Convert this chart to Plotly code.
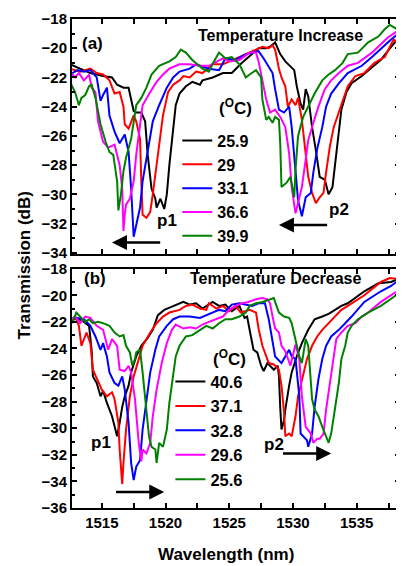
import plotly.graph_objects as go

# ---------------- data: (wavelength nm, transmission dB) ----------------
# Panel (a): temperature increase
A_25_9 = [(1512.5,-21.1),(1514.1,-21.7),(1515.1,-21.9),(1515.8,-22.0),(1516.2,-22.5),(1516.7,-22.7),(1517.1,-22.7),
          (1517.3,-23.4),(1517.5,-24.3),(1517.7,-24.4),(1518.1,-24.4),(1518.4,-25.0),(1518.6,-27.3),(1518.9,-29.6),
          (1519.2,-30.3),(1519.3,-30.9),(1519.6,-30.3),(1519.9,-31.0),(1520.1,-30.0),(1520.3,-28.0),(1520.6,-25.5),
          (1520.8,-23.9),(1521.1,-23.1),(1521.6,-22.6),(1522.1,-22.3),(1522.7,-22.5),(1522.9,-22.2),(1523.7,-22.0),
          (1524.5,-21.7),(1525.2,-21.7),(1526.0,-21.0),(1526.8,-20.4),(1527.3,-20.0),(1527.9,-20.0),(1528.2,-19.9),
          (1528.6,-19.6),(1529.0,-20.4),(1529.4,-20.9),(1530.1,-21.5),(1530.3,-22.6),(1530.6,-23.8),(1530.8,-24.2),
          (1531.0,-22.8),(1531.2,-23.3),(1531.5,-25.4),(1531.8,-27.0),(1532.1,-28.8),(1532.5,-29.0),(1532.8,-30.0),
          (1533.1,-29.5),(1533.3,-28.1),(1533.6,-26.0),(1533.8,-24.2),(1534.2,-23.0),(1534.6,-22.4),(1535.4,-21.9),
          (1536.2,-21.3),(1536.9,-20.8),(1537.7,-19.9),(1538.4,-19.2)]
A_29 = [(1512.5,-21.4),(1513.3,-21.6),(1514.1,-21.4),(1514.6,-21.7),(1515.1,-21.8),(1515.6,-22.2),(1516.0,-23.1),
        (1516.4,-23.0),(1516.7,-24.0),(1516.8,-25.2),(1517.1,-25.5),(1517.5,-24.6),(1517.7,-25.0),(1518.0,-26.2),
        (1518.1,-29.1),(1518.2,-31.4),(1518.5,-31.6),(1518.8,-31.2),(1519.0,-30.0),(1519.4,-27.1),(1519.8,-24.6),
        (1520.2,-23.0),(1520.6,-22.5),(1521.1,-22.2),(1521.4,-21.9),(1521.9,-22.0),(1522.4,-21.6),(1522.9,-21.7),
        (1523.7,-21.1),(1524.5,-21.1),(1525.0,-20.9),(1525.5,-20.7),(1526.3,-20.4),(1527.1,-20.1),(1527.6,-19.9),
        (1528.1,-20.0),(1528.4,-19.8),(1528.6,-20.1),(1528.9,-21.4),(1529.1,-22.0),(1529.4,-22.6),(1529.6,-24.0),
        (1529.9,-23.5),(1530.2,-23.9),(1530.4,-23.4),(1530.7,-24.9),(1531.0,-27.2),(1531.2,-28.8),(1531.5,-29.9),
        (1531.8,-30.6),(1532.1,-30.2),(1532.4,-29.9),(1532.6,-28.5),(1532.9,-26.7),(1533.2,-25.4),(1533.6,-24.4),
        (1534.0,-23.5),(1534.3,-22.6),(1534.9,-21.9),(1535.6,-21.7),(1536.4,-21.0),(1537.2,-20.6),(1537.9,-19.4),
        (1538.4,-19.8)]
A_33_1 = [(1512.5,-21.8),(1513.1,-21.5),(1513.6,-21.6),(1514.1,-21.5),(1514.6,-22.0),(1514.9,-23.6),(1515.1,-23.2),
          (1515.4,-22.7),(1515.6,-24.6),(1516.0,-25.7),(1516.4,-26.5),(1516.8,-25.9),(1517.1,-27.1),(1517.3,-29.6),
          (1517.5,-32.9),(1517.7,-32.1),(1518.0,-30.9),(1518.2,-29.1),(1518.6,-27.1),(1519.0,-25.0),(1519.5,-23.9),
          (1520.1,-22.7),(1520.6,-22.0),(1521.1,-21.6),(1521.9,-21.4),(1522.4,-21.1),(1523.4,-21.4),(1524.2,-21.5),
          (1524.7,-20.7),(1525.5,-20.8),(1526.3,-20.4),(1526.8,-20.3),(1527.3,-20.2),(1527.7,-20.7),(1528.4,-21.7),
          (1528.6,-22.8),(1528.9,-24.2),(1529.3,-24.4),(1529.7,-24.0),(1529.9,-25.4),(1530.2,-28.1),(1530.4,-30.4),
          (1530.7,-31.5),(1531.0,-30.2),(1531.4,-29.9),(1531.6,-28.5),(1531.9,-26.9),(1532.3,-25.4),(1532.6,-24.0),
          (1533.0,-23.1),(1533.6,-22.4),(1534.3,-21.7),(1535.4,-21.2),(1536.2,-20.6),(1537.7,-19.4),(1538.4,-18.9)]
A_36_6 = [(1512.5,-21.6),(1512.9,-22.0),(1513.2,-21.7),(1513.6,-22.2),(1514.0,-21.8),(1514.2,-22.7),(1514.5,-23.0),
          (1514.7,-25.0),(1515.1,-26.4),(1515.5,-26.8),(1516.0,-26.6),(1516.4,-28.0),(1516.6,-29.6),(1516.7,-32.5),
          (1516.8,-31.4),(1516.9,-30.7),(1517.2,-30.3),(1517.5,-29.1),(1517.7,-27.3),(1518.0,-25.2),(1518.2,-23.9),
          (1518.8,-23.0),(1519.3,-22.3),(1519.8,-21.8),(1520.3,-21.4),(1521.1,-21.1),(1521.9,-21.1),(1522.7,-21.2),
          (1523.4,-21.2),(1524.5,-20.7),(1525.0,-20.9),(1525.8,-20.8),(1526.6,-20.3),(1527.1,-20.3),(1527.3,-20.9),
          (1527.6,-22.2),(1527.9,-23.5),(1528.2,-24.4),(1528.6,-24.2),(1529.0,-24.7),(1529.4,-25.4),(1529.7,-27.2),
          (1529.9,-29.5),(1530.2,-31.3),(1530.4,-30.6),(1530.7,-29.5),(1531.0,-27.6),(1531.2,-26.3),(1531.6,-25.1),
          (1532.0,-24.0),(1532.5,-22.8),(1533.0,-22.2),(1533.6,-21.7),(1534.3,-21.2),(1535.1,-21.0),(1536.2,-20.3),
          (1537.4,-19.3),(1538.4,-18.7)]
A_39_9 = [(1512.5,-22.3),(1512.9,-23.0),(1513.2,-23.9),(1513.4,-23.4),(1513.7,-23.2),(1514.0,-22.6),(1514.2,-22.5),
          (1514.5,-23.4),(1514.9,-25.2),(1515.3,-26.4),(1515.6,-27.1),(1515.9,-27.3),(1516.2,-29.1),(1516.3,-31.1),
          (1516.5,-30.0),(1516.7,-28.4),(1516.9,-27.5),(1517.3,-26.2),(1517.7,-23.9),(1518.1,-23.4),(1518.5,-22.7),
          (1518.9,-21.8),(1519.5,-21.2),(1520.3,-20.9),(1520.8,-20.6),(1521.2,-20.1),(1521.6,-20.3),(1522.1,-20.8),
          (1522.9,-21.4),(1523.4,-21.6),(1523.8,-20.9),(1524.2,-20.3),(1524.7,-20.7),(1525.2,-20.6),(1525.8,-21.1),
          (1526.3,-22.0),(1526.6,-21.8),(1527.1,-21.5),(1527.5,-22.0),(1527.6,-23.5),(1527.9,-24.9),(1528.1,-24.7),
          (1528.4,-25.1),(1528.6,-24.7),(1528.9,-24.9),(1529.0,-26.5),(1529.1,-29.5),(1529.5,-29.2),(1529.8,-28.8),
          (1530.1,-30.2),(1530.2,-28.3),(1530.4,-26.0),(1530.8,-24.7),(1531.2,-24.0),(1531.7,-23.1),(1532.3,-22.2),
          (1532.8,-21.8),(1533.3,-21.5),(1533.9,-21.0),(1534.3,-20.4),(1535.1,-20.3),(1535.9,-19.6),(1536.7,-19.2),
          (1537.2,-18.7),(1537.6,-18.4),(1538.0,-18.6),(1538.4,-18.9)]

# Panel (b): temperature decrease
B_40_6 = [(1512.5,-22.0),(1513.0,-21.7),(1513.6,-22.0),(1514.0,-22.3),(1514.2,-24.1),(1514.3,-26.1),(1514.6,-26.6),
          (1514.9,-27.6),(1515.1,-27.2),(1515.4,-28.1),(1515.8,-29.1),(1516.0,-29.9),(1516.2,-30.6),(1516.4,-29.6),
          (1516.6,-28.4),(1516.8,-27.6),(1517.1,-26.8),(1517.3,-25.8),(1517.7,-24.6),(1518.1,-23.8),(1518.6,-23.2),
          (1519.0,-22.6),(1519.4,-21.5),(1519.9,-21.1),(1520.6,-20.8),(1521.1,-20.6),(1521.4,-20.5),(1521.9,-20.7),
          (1522.4,-20.6),(1522.9,-21.0),(1523.7,-20.5),(1524.2,-20.8),(1524.7,-20.7),(1525.2,-21.2),(1525.8,-20.8),
          (1526.2,-21.7),(1526.4,-21.6),(1526.7,-23.1),(1526.9,-24.1),(1527.2,-24.3),(1527.5,-25.3),(1527.7,-25.7),
          (1528.0,-25.1),(1528.2,-25.3),(1528.5,-25.6),(1528.8,-25.3),(1528.9,-26.1),(1529.0,-28.4),(1529.1,-30.1),
          (1529.3,-29.4),(1529.4,-28.6),(1529.7,-26.8),(1529.9,-25.8),(1530.3,-24.6),(1530.7,-23.6),(1531.2,-22.6),
          (1531.7,-21.8),(1532.3,-21.6),(1532.8,-21.4),(1533.3,-21.1),(1533.8,-20.8),(1534.3,-20.6),(1535.6,-19.7),
          (1536.7,-19.1),(1537.7,-19.0),(1538.4,-18.7)]
B_37_1 = [(1512.5,-22.0),(1512.9,-21.6),(1513.2,-22.3),(1513.4,-23.8),(1513.8,-22.8),(1514.1,-23.6),(1514.3,-25.6),
          (1514.6,-26.3),(1515.0,-27.1),(1515.4,-27.6),(1515.8,-27.3),(1516.0,-27.8),(1516.3,-29.6),(1516.4,-31.6),
          (1516.6,-34.2),(1516.7,-32.6),(1516.9,-30.1),(1517.2,-27.6),(1517.5,-26.1),(1517.9,-24.8),(1518.2,-23.8),
          (1518.8,-22.8),(1519.3,-22.1),(1519.8,-21.6),(1520.3,-21.3),(1521.1,-21.1),(1521.6,-20.8),(1522.1,-20.7),
          (1522.7,-21.0),(1523.2,-21.1),(1523.4,-20.6),(1524.0,-21.0),(1524.5,-20.8),(1525.0,-21.2),(1525.5,-20.8),
          (1525.9,-21.3),(1526.6,-21.1),(1527.1,-21.3),(1527.3,-22.5),(1527.6,-23.8),(1527.8,-24.3),(1528.1,-25.1),
          (1528.5,-25.2),(1528.9,-25.6),(1529.1,-26.8),(1529.3,-28.8),(1529.4,-30.6),(1529.7,-30.4),(1529.9,-30.6),
          (1530.2,-29.1),(1530.4,-27.6),(1530.7,-26.3),(1531.1,-24.8),(1531.5,-23.8),(1531.9,-23.1),(1532.3,-22.6),
          (1532.8,-22.1),(1533.3,-21.6),(1533.8,-21.1),(1534.3,-20.8),(1535.6,-20.0),(1536.9,-19.0),(1537.6,-18.7),
          (1538.4,-18.8)]
B_32_8 = [(1512.5,-21.8),(1513.0,-21.7),(1513.6,-21.8),(1514.1,-22.3),(1514.5,-23.1),(1514.9,-24.1),(1515.1,-23.6),
          (1515.4,-24.6),(1515.6,-25.8),(1516.0,-26.6),(1516.3,-26.8),(1516.6,-26.1),(1516.8,-27.1),(1517.1,-29.6),
          (1517.3,-32.6),(1517.5,-33.9),(1517.7,-32.9),(1518.0,-32.4),(1518.2,-30.1),(1518.5,-27.8),(1518.8,-25.8),
          (1519.2,-24.1),(1519.5,-23.1),(1520.1,-22.3),(1520.6,-21.8),(1521.1,-21.6),(1521.9,-21.6),(1522.7,-21.7),
          (1523.7,-21.3),(1524.2,-21.1),(1524.7,-21.2),(1525.2,-20.7),(1525.8,-20.6),(1526.3,-20.7),(1526.8,-20.8),
          (1527.3,-20.6),(1527.8,-20.6),(1528.1,-21.8),(1528.4,-23.6),(1528.6,-24.6),(1529.1,-25.1),(1529.4,-24.6),
          (1529.7,-24.1),(1529.9,-24.6),(1530.2,-24.8),(1530.5,-27.6),(1530.6,-30.4),(1530.8,-30.6),(1531.1,-30.9),
          (1531.2,-31.4),(1531.5,-30.4),(1531.7,-28.4),(1532.0,-26.3),(1532.3,-24.8),(1532.6,-23.8),(1533.0,-23.1),
          (1533.6,-22.6),(1534.1,-22.1),(1534.6,-21.6),(1535.6,-20.5),(1536.9,-19.7),(1537.7,-19.3),(1538.4,-18.8)]
B_29_6 = [(1512.5,-22.0),(1512.9,-21.6),(1513.3,-22.1),(1513.7,-21.6),(1514.1,-21.7),(1514.6,-22.3),(1515.1,-22.6),
          (1515.5,-24.1),(1515.8,-23.3),(1516.2,-23.8),(1516.4,-25.6),(1516.8,-25.7),(1517.1,-25.3),(1517.3,-25.8),
          (1517.6,-27.8),(1517.9,-31.1),(1518.1,-32.5),(1518.2,-31.6),(1518.5,-31.9),(1518.8,-31.1),(1519.0,-29.1),
          (1519.3,-27.1),(1519.7,-25.1),(1520.1,-23.6),(1520.5,-22.6),(1520.8,-22.2),(1521.4,-22.5),(1521.9,-22.4),
          (1522.4,-22.5),(1522.9,-22.2),(1523.4,-22.0),(1523.9,-21.8),(1524.5,-21.6),(1525.0,-21.1),(1525.5,-20.8),
          (1526.0,-20.6),(1526.5,-20.5),(1527.1,-20.3),(1527.6,-20.2),(1528.0,-20.3),(1528.2,-20.6),(1528.4,-21.6),
          (1528.6,-22.5),(1528.9,-22.8),(1529.1,-23.8),(1529.4,-24.2),(1529.8,-25.3),(1530.2,-23.7),(1530.5,-24.8),
          (1530.7,-27.6),(1531.0,-29.9),(1531.4,-30.4),(1531.6,-31.1),(1531.9,-30.8),(1532.1,-30.8),(1532.4,-30.4),
          (1532.6,-28.6),(1532.9,-26.6),(1533.2,-24.6),(1533.4,-23.3),(1533.8,-22.8),(1534.3,-22.3),(1534.9,-22.1),
          (1535.4,-21.6),(1535.9,-21.3),(1536.9,-20.5),(1538.0,-19.8),(1538.4,-19.7)]
B_25_6 = [(1512.5,-22.3),(1512.8,-21.8),(1513.0,-21.3),(1513.3,-21.6),(1513.7,-22.0),(1514.0,-21.8),(1514.3,-22.1),
          (1514.7,-22.0),(1515.1,-22.1),(1515.6,-22.3),(1516.0,-22.8),(1516.4,-23.1),(1516.7,-23.0),(1516.9,-23.8),
          (1517.2,-24.3),(1517.4,-25.3),(1517.6,-24.8),(1517.7,-24.3),(1518.0,-24.1),(1518.2,-25.8),(1518.5,-28.4),
          (1518.7,-30.6),(1518.9,-31.4),(1519.2,-31.6),(1519.3,-32.6),(1519.4,-31.9),(1519.5,-31.1),(1519.8,-31.4),
          (1520.1,-30.1),(1520.3,-28.1),(1520.6,-26.1),(1520.8,-24.6),(1521.1,-23.8),(1521.6,-23.1),(1522.1,-23.0),
          (1522.7,-22.6),(1523.2,-22.3),(1523.7,-22.5),(1524.2,-22.1),(1524.7,-21.8),(1525.2,-21.8),(1525.8,-21.6),
          (1526.3,-21.3),(1526.6,-20.8),(1527.1,-20.6),(1527.6,-20.5),(1528.1,-20.3),(1528.5,-20.2),(1528.6,-20.5),
          (1528.9,-21.3),(1529.3,-21.6),(1529.7,-21.7),(1529.9,-22.1),(1530.2,-23.3),(1530.5,-24.6),(1530.7,-25.1),
          (1531.0,-23.3),(1531.2,-23.8),(1531.5,-27.8),(1531.7,-28.6),(1532.0,-29.1),(1532.3,-29.9),(1532.5,-30.4),
          (1532.8,-31.1),(1533.0,-30.4),(1533.3,-28.6),(1533.6,-26.6),(1533.8,-24.8),(1534.1,-23.8),(1534.3,-22.8),
          (1534.6,-22.3),(1535.1,-21.8),(1535.9,-21.3),(1536.9,-20.8),(1537.7,-20.3),(1538.4,-19.8)]

LABELS_A = ["25.9", "29", "33.1", "36.6", "39.9"]
LABELS_B = ["40.6", "37.1", "32.8", "29.6", "25.6"]
COLORS = ["#000000", "#ff0000", "#0000ff", "#ff00ff", "#008000"]

X_RANGE = [1512.66, 1538.4]
Y_RANGE_A = [-34.1, -18]
Y_RANGE_B = [-36, -18]
X_TICKS = [1515, 1520, 1525, 1530, 1535]

FONT = "Liberation Sans, Arial, Helvetica, sans-serif"

fig = go.Figure()

for name, color, pts in zip(LABELS_A, COLORS, [A_25_9, A_29, A_33_1, A_36_6, A_39_9]):
    fig.add_trace(go.Scatter(x=[p[0] for p in pts], y=[p[1] for p in pts], mode="lines",
                             line=dict(color=color, width=2), name=name,
                             xaxis="x", yaxis="y", legend="legend"))
for name, color, pts in zip(LABELS_B, COLORS, [B_40_6, B_37_1, B_32_8, B_29_6, B_25_6]):
    fig.add_trace(go.Scatter(x=[p[0] for p in pts], y=[p[1] for p in pts], mode="lines",
                             line=dict(color=color, width=2), name=name,
                             xaxis="x2", yaxis="y2", legend="legend2"))

tickfont = dict(family=FONT, size=15, color="black", weight="bold")

def xaxis(anchor, labels):
    return dict(anchor=anchor, domain=[0, 1], range=X_RANGE, tickvals=X_TICKS,
                showticklabels=labels, tickfont=tickfont,
                ticks="inside", ticklen=5, tickwidth=1.5, tickcolor="black",
                minor=dict(dtick=2.5, tick0=1515, ticks="inside", ticklen=5, tickwidth=1.5, tickcolor="black"),
                showline=True, linewidth=2, linecolor="black", mirror="ticks",
                showgrid=False, zeroline=False)

def yaxis(anchor, dom, rng, vals):
    return dict(anchor=anchor, domain=dom, range=rng, tickvals=vals, tickfont=tickfont,
                ticks="inside", ticklen=5, tickwidth=1.5, tickcolor="black",
                minor=dict(dtick=1, ticks="inside", ticklen=3, tickwidth=1.5, tickcolor="black"),
                showline=True, linewidth=2, linecolor="black", mirror="ticks",
                showgrid=False, zeroline=False)

ann_font = dict(family=FONT, size=16, color="black", weight="bold")
big_font = dict(family=FONT, size=17, color="black", weight="bold")

def label(text, x, y, xref, yref, font=big_font, **kw):
    return dict(text=text, x=x, y=y, xref=xref, yref=yref, showarrow=False, font=font,
                xanchor="center", yanchor="middle", **kw)

annotations = [
    label("(a)", 1514.3, -19.7, "x", "y"),
    label("Temperature Increase", 1529.05, -19.1, "x", "y", ann_font),
    label("(<sup>O</sup>C)", 1525.5, -24.0, "x", "y"),
    label("p1", 1520.1, -31.8, "x", "y"),
    label("p2", 1533.6, -31.0, "x", "y"),
    label("(b)", 1514.5, -18.75, "x2", "y2"),
    label("Temperature Decrease", 1528.6, -18.75, "x2", "y2", ann_font),
    label("(<sup>O</sup>C)", 1525.0, -24.7, "x2", "y2"),
    label("p1", 1514.95, -31.1, "x2", "y2"),
    label("p2", 1528.5, -31.2, "x2", "y2"),
    label("Transmission (dB)", -0.142, 0.497, "paper", "paper", textangle=-90),
    label("Wavelength (nm)", 0.47, -0.095, "paper", "paper"),
]

# shift arrows (head, tail)
ARROWS = [("x", "y", 1515.8, -33.3, 1519.7, -33.3),
          ("x", "y", 1528.9, -32.1, 1532.8, -32.1),
          ("x2", "y2", 1519.9, -34.8, 1516.0, -34.8),
          ("x2", "y2", 1533.0, -31.9, 1529.1, -31.9)]
for xr, yr, hx, hy, tx, ty in ARROWS:
    annotations.append(dict(x=hx, y=hy, ax=tx, ay=ty, xref=xr, yref=yr, axref=xr, ayref=yr,
                            text="", showarrow=True, arrowhead=2, arrowsize=1.2, arrowwidth=2.5,
                            arrowcolor="black", standoff=0, startstandoff=0))

def legend_style(size):
    return dict(font=dict(family=FONT, size=size, color="black", weight="bold"),
                bgcolor="rgba(0,0,0,0)", xanchor="left", yanchor="top",
                itemclick=False, itemdoubleclick=False)

# page body has an 8px default margin, so the figure is 8px smaller and margins shifted
fig.update_layout(
    width=396, height=558,
    margin=dict(l=64, r=2, t=11, b=58),
    paper_bgcolor="white", plot_bgcolor="white",
    showlegend=True,
    xaxis=xaxis("y", False),
    yaxis=yaxis("x", [0.5188, 1], Y_RANGE_A, [-34, -32, -30, -28, -26, -24, -22, -20, -18]),
    xaxis2=dict(xaxis("y2", True), matches="x"),
    yaxis2=yaxis("x2", [0, 0.4894], Y_RANGE_B, [-36, -34, -32, -30, -28, -26, -24, -22, -20, -18]),
    legend=dict(legend_style(16), x=0.321, y=0.786),
    legend2=dict(legend_style(16.5), x=0.300, y=0.294),
    annotations=annotations,
)

fig.write_html("out.html")
